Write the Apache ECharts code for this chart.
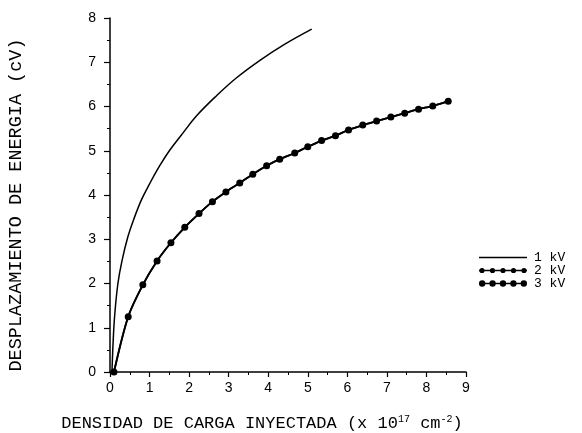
<!DOCTYPE html>
<html>
<head>
<meta charset="utf-8">
<script src="https://cdn.jsdelivr.net/npm/echarts@6/dist/echarts.min.js"></script>
<style>html,body{margin:0;padding:0;background:#fff;}#c{width:582px;height:433px;}</style>
</head>
<body>
<div id="c"></div>
<script>
// 1 kV curve (solid line)
const kv1X = [0.05, 0.08, 0.12, 0.2, 0.3, 0.45, 0.6, 0.8, 1.0, 1.25, 1.5, 1.8, 2.2, 2.7, 3.2, 3.8, 4.4, 5.1];
const kv1Y = [0.0, 0.7, 1.3, 2.0, 2.5, 3.05, 3.45, 3.9, 4.25, 4.65, 5.0, 5.35, 5.8, 6.25, 6.65, 7.05, 7.4, 7.75];
// 2 kV and 3 kV curves (marked, overlapping)
const kvMX = [0.1, 0.46, 0.83, 1.19, 1.54, 1.89, 2.25, 2.59, 2.93, 3.28, 3.61, 3.96, 4.29, 4.67, 5.0, 5.35, 5.70, 6.03, 6.39, 6.74, 7.10, 7.45, 7.80, 8.16, 8.55];
const kv2Y = [0.0, 1.25, 1.97, 2.51, 2.92, 3.27, 3.58, 3.85, 4.07, 4.27, 4.47, 4.66, 4.81, 4.95, 5.09, 5.23, 5.34, 5.47, 5.58, 5.67, 5.76, 5.85, 5.94, 6.01, 6.12];
const kv3Y = [0.0, 1.25, 1.97, 2.51, 2.92, 3.27, 3.58, 3.85, 4.07, 4.27, 4.47, 4.66, 4.81, 4.95, 5.09, 5.23, 5.34, 5.47, 5.58, 5.67, 5.76, 5.85, 5.94, 6.01, 6.12];
const seriesNames = ['1 kV', '2 kV', '3 kV'];
const xTicks = [0, 1, 2, 3, 4, 5, 6, 7, 8, 9];
const yTicks = [0, 1, 2, 3, 4, 5, 6, 7, 8];

function pts(xs, ys) { return xs.map((x, i) => [x, ys[i]]); }
function dotsPath(r) {
  let p = 'M0,3.3 L48,3.3 L48,4.7 L0,4.7 Z';
  [3, 13.5, 24, 34.5, 45].forEach(cx => {
    p += ' M' + (cx - r) + ',4 a' + r + ',' + r + ' 0 1,1 ' + (2 * r) + ',0 a' + r + ',' + r + ' 0 1,1 ' + (-2 * r) + ',0 Z';
  });
  p += ' M0,0 L0.01,0 L0.01,0.01 Z M0,8 L0.01,8 L0.01,7.99 Z';
  return 'path://' + p;
}
const lineIcon = 'path://M0,3.3 L48,3.3 L48,4.7 L0,4.7 Z M0,0 L0.01,0 L0.01,0.01 Z M0,8 L0.01,8 L0.01,7.99 Z';

const chart = echarts.init(document.getElementById('c'));
const titleFont = 'Liberation Mono, DejaVu Sans Mono, monospace';
chart.setOption({
  backgroundColor: '#fff',
  animation: false,
  grid: { left: 110, top: 18, width: 356, height: 354, containLabel: false, outerBoundsMode: 'none' },
  legend: {
    orient: 'vertical', left: 474, top: 246,
    itemWidth: 48, itemHeight: 8, itemGap: 0,
    textStyle: { fontFamily: titleFont, fontSize: 13, lineHeight: 10, color: '#000', padding: [0, 0, 0, 2] },
    data: [
      { name: seriesNames[0], icon: lineIcon },
      { name: seriesNames[1], icon: dotsPath(2.6) },
      { name: seriesNames[2], icon: dotsPath(3.2) }
    ]
  },
  xAxis: {
    type: 'value', min: xTicks[0], max: xTicks[xTicks.length - 1], interval: 1,
    name: 'DENSIDAD DE CARGA INYECTADA (x 10{s|17} cm{s|-2})',
    nameLocation: 'middle', nameGap: 42,
    nameTextStyle: {
      fontFamily: titleFont, fontSize: 17, color: '#000', padding: [0, 52, 0, 0],
      rich: { s: { fontFamily: titleFont, fontSize: 10, verticalAlign: 'top', padding: [0, 0, 8, 0] } }
    },
    axisLine: { lineStyle: { color: '#000', width: 1.5 } },
    axisTick: { length: 5, lineStyle: { color: '#000', width: 1.2 } },
    minorTick: { show: true, splitNumber: 2, length: 3, lineStyle: { color: '#000', width: 1 } },
    splitLine: { show: false },
    axisLabel: { fontFamily: 'Liberation Sans, Arial, sans-serif', fontSize: 14, color: '#000', margin: 9 }
  },
  yAxis: {
    type: 'value', min: yTicks[0], max: yTicks[yTicks.length - 1], interval: 1,
    name: 'DESPLAZAMIENTO DE ENERGIA (cV)',
    nameLocation: 'middle', nameGap: 84,
    nameTextStyle: { fontFamily: titleFont, fontSize: 18.5, color: '#000', padding: [0, 20, 0, 0] },
    axisLine: { show: true, lineStyle: { color: '#000', width: 1.5 } },
    axisTick: { show: true, length: 6, lineStyle: { color: '#000', width: 1.2 } },
    minorTick: { show: true, splitNumber: 2, length: 3, lineStyle: { color: '#000', width: 1 } },
    splitLine: { show: false },
    axisLabel: { fontFamily: 'Liberation Sans, Arial, sans-serif', fontSize: 14, color: '#000', margin: 14 }
  },
  series: [
    {
      name: seriesNames[0], type: 'line', data: pts(kv1X, kv1Y), smooth: 0.4,
      showSymbol: false, symbol: 'none', lineStyle: { color: '#000', width: 1.5 }, itemStyle: { color: '#000' }
    },
    {
      name: seriesNames[1], type: 'line', data: pts(kvMX, kv2Y), smooth: 0.3,
      symbol: 'circle', symbolSize: 5, lineStyle: { color: '#000', width: 1.8 }, itemStyle: { color: '#000' }
    },
    {
      name: seriesNames[2], type: 'line', data: pts(kvMX, kv3Y), smooth: 0.3,
      symbol: 'circle', symbolSize: 7, lineStyle: { color: '#000', width: 1.8 }, itemStyle: { color: '#000' }
    }
  ]
});
</script>
</body>
</html>
